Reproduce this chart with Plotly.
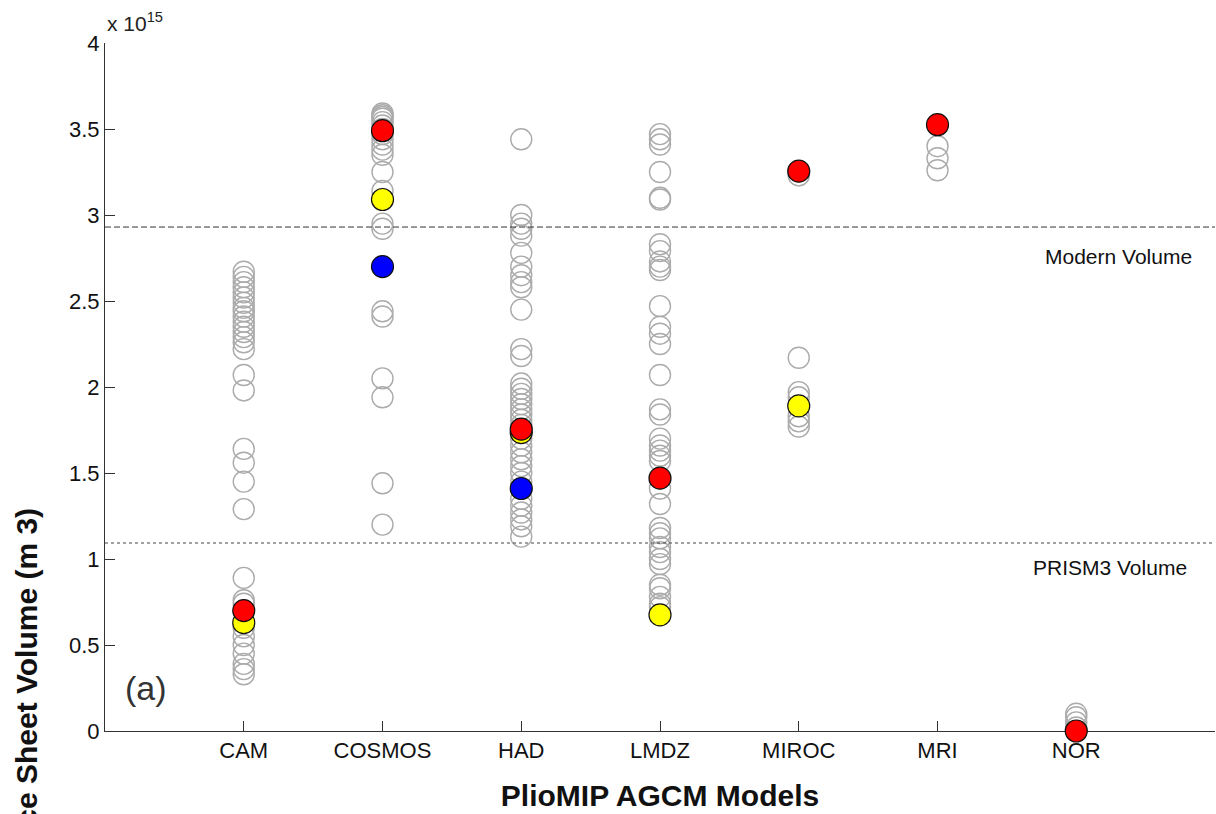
import plotly.graph_objects as go

# ---------------- data (ice sheet volume, units of 1e15 m^3) ----------------
models = ["CAM", "COSMOS", "HAD", "LMDZ", "MIROC", "MRI", "NOR"]

cam_gray = [2.67, 2.64, 2.61, 2.58, 2.55, 2.52, 2.49, 2.46, 2.44, 2.41, 2.38, 2.35,
            2.32, 2.29, 2.26, 2.22, 2.07, 1.98, 1.64, 1.56, 1.45, 1.29, 0.89, 0.76,
            0.74, 0.60, 0.55, 0.50, 0.45, 0.39, 0.36, 0.33]
cosmos_gray = [3.59, 3.58, 3.57, 3.56, 3.54, 3.52, 3.50, 3.47, 3.44, 3.41, 3.38, 3.35,
               3.25, 3.14, 2.95, 2.92, 2.44, 2.41, 2.05, 1.94, 1.44, 1.20]
had_gray = [3.44, 3.00, 2.95, 2.92, 2.88, 2.78, 2.70, 2.65, 2.61, 2.58, 2.45, 2.22,
            2.18, 2.02, 1.99, 1.96, 1.93, 1.90, 1.87, 1.84, 1.81, 1.78, 1.70, 1.66,
            1.62, 1.58, 1.54, 1.50, 1.45, 1.35, 1.31, 1.27, 1.23, 1.19, 1.13]
lmdz_gray = [3.47, 3.44, 3.41, 3.25, 3.10, 3.09, 2.83, 2.79, 2.73, 2.70, 2.68, 2.47,
             2.35, 2.31, 2.25, 2.07, 1.87, 1.84, 1.70, 1.66, 1.63, 1.60, 1.57, 1.41,
             1.32, 1.18, 1.15, 1.12, 1.07, 1.04, 1.00, 0.97, 0.85, 0.83, 0.78, 0.74, 0.72]
miroc_gray = [3.23, 2.17, 1.97, 1.94, 1.83, 1.80, 1.77]
mri_gray = [3.40, 3.33, 3.26]
nor_gray = [0.10, 0.08, 0.05, 0.02]

red_values = [0.70, 3.49, 1.755, 1.47, 3.255, 3.525, 0.0]
yellow_values = [0.63, 3.09, 1.735, 0.675, 1.89, None, None]
blue_values = [None, 2.70, 1.41, None, None, None, None]

modern_volume = 2.93
prism3_volume = 1.093

y_ticks = [0, 0.5, 1, 1.5, 2, 2.5, 3, 3.5, 4]
y_ticktext = ["0", "0.5", "1", "1.5", "2", "2.5", "3", "3.5", "4"]

# ---------------- figure ----------------
FONT = "Liberation Sans, Arial, Helvetica, sans-serif"
fig = go.Figure()

gray_sets = [cam_gray, cosmos_gray, had_gray, lmdz_gray, miroc_gray, mri_gray, nor_gray]
gx, gy = [], []
for m, vals in zip(models, gray_sets):
    gx += [m] * len(vals)
    gy += vals
fig.add_trace(go.Scatter(
    x=gx, y=gy, mode="markers", cliponaxis=False, showlegend=False,
    marker=dict(symbol="circle", size=21, color="rgba(0,0,0,0)",
                line=dict(color="#ababab", width=1.4))))

for vals, col in [(yellow_values, "#ffff00"), (blue_values, "#0000ff"), (red_values, "#ff0000")]:
    xs = [m for m, v in zip(models, vals) if v is not None]
    ys = [v for v in vals if v is not None]
    fig.add_trace(go.Scatter(
        x=xs, y=ys, mode="markers", cliponaxis=False, showlegend=False,
        marker=dict(symbol="circle", size=22, color=col,
                    line=dict(color="#111111", width=1.2))))

fig.add_hline(y=modern_volume, line=dict(color="#333333", width=1, dash="6px,3px"))
fig.add_hline(y=prism3_volume, line=dict(color="#444444", width=1, dash="dot"))

fig.add_annotation(x=0.9135, xref="paper", y=2.756, yref="y", text="Modern Volume",
                   xanchor="center", yanchor="middle",
                   showarrow=False, font=dict(family=FONT, size=21, color="#111"))
fig.add_annotation(x=0.905, xref="paper", y=0.948, yref="y", text="PRISM3 Volume",
                   xanchor="center", yanchor="middle",
                   showarrow=False, font=dict(family=FONT, size=21, color="#111"))
fig.add_annotation(x=0.037, xref="paper", y=0.25, yref="y", text="(a)",
                   xanchor="center", yanchor="middle",
                   showarrow=False, font=dict(family=FONT, size=34, color="#333"))
fig.add_annotation(x=0.0, xref="paper", y=1.0, yref="paper", xanchor="left", yanchor="bottom",
                   yshift=6, text="x 10<sup>15</sup>", showarrow=False,
                   font=dict(family=FONT, size=21, color="#222"))
fig.add_annotation(x=-0.0712, xref="paper", y=0.087, yref="paper", textangle=-90,
                   xanchor="center", yanchor="middle",
                   text="<b>Ice Sheet Volume (m 3)</b>", showarrow=False,
                   font=dict(family=FONT, size=30, color="#111"))

fig.update_layout(
    width=1216, height=814,
    margin=dict(l=105, r=1, t=43, b=83),
    paper_bgcolor="white", plot_bgcolor="white",
    font=dict(family=FONT, size=21, color="#111"),
    xaxis=dict(type="category", categoryorder="array", categoryarray=models,
               range=[-1, 7], showgrid=False, zeroline=False, automargin=False,
               showline=True, linecolor="#333", linewidth=1, layer="below traces",
               ticks="inside", ticklen=10, tickcolor="#333",
               tickfont=dict(family=FONT, size=22, color="#111"),
               title=dict(text="<b>PlioMIP AGCM Models</b>", standoff=22,
                          font=dict(family=FONT, size=30, color="#111"))),
    yaxis=dict(range=[0, 4], tickvals=y_ticks, ticktext=y_ticktext,
               showgrid=False, zeroline=False, automargin=False,
               showline=True, linecolor="#333", linewidth=1, layer="below traces",
               ticks="inside", ticklen=10, tickcolor="#333",
               tickfont=dict(family=FONT, size=22, color="#111")),
)

fig.write_html("out.html", config={"displayModeBar": False},
               post_script="document.body.style.margin='0';document.body.style.padding='0';")
